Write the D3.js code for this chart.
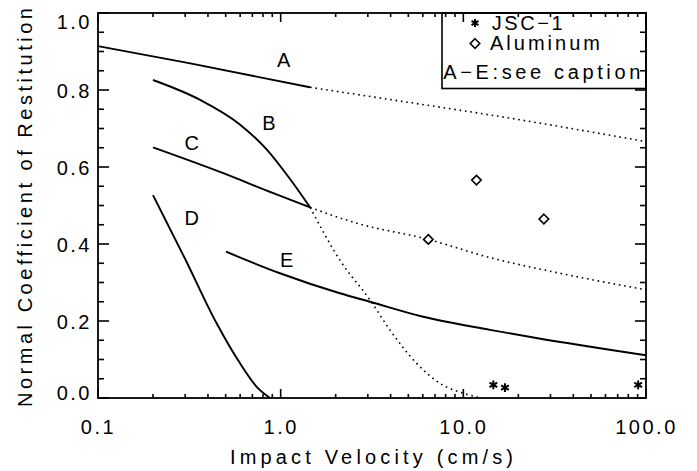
<!DOCTYPE html>
<html>
<head>
<meta charset="utf-8">
<script src="https://cdn.jsdelivr.net/npm/d3@7"></script>
<style>
  body { margin: 0; background: #fff; }
  text { font-family: "Liberation Sans", Arial, sans-serif; fill: #000; }
</style>
</head>
<body>
<svg id="chart" width="697" height="471"></svg>
<script>
// model curves (velocity in cm/s, coefficient of restitution)
const curveA_v = [0.1, 0.32, 1.45];
const curveA_e = [0.914, 0.869, 0.807];
const curveA_dot_v = [1.45, 4, 15.9, 100];
const curveA_dot_e = [0.807, 0.775, 0.731, 0.666];

const curveB_v = [0.2, 0.36, 0.6, 0.84, 1.12, 1.45];
const curveB_e = [0.826, 0.775, 0.71, 0.645, 0.57, 0.495];
const curveB_dot_v = [1.45, 2.11, 3.08, 3.96, 5.55, 7.45, 10.4, 12.5];
const curveB_dot_e = [0.495, 0.358, 0.255, 0.177, 0.090, 0.038, 0.010, 0.0];

const curveC_v = [0.2, 0.485, 0.911, 1.45];
const curveC_e = [0.651, 0.584, 0.532, 0.495];
const curveC_dot_v = [1.45, 2.61, 6.43, 13.4, 33.8, 100];
const curveC_dot_e = [0.495, 0.454, 0.412, 0.367, 0.324, 0.281];

const curveD_v = [0.2, 0.3, 0.446, 0.599, 0.739, 0.874];
const curveD_e = [0.527, 0.361, 0.194, 0.090, 0.029, 0.0];

const curveE_v = [0.502, 0.991, 2.11, 3.08, 6.03, 14.0, 25.1, 100];
const curveE_e = [0.380, 0.324, 0.272, 0.250, 0.211, 0.177, 0.156, 0.111];

// measurements
const jsc_v = [14.6, 16.9, 90.6];
const jsc_e = [0.034, 0.027, 0.034];
const alu_v = [6.43, 11.8, 27.6];
const alu_e = [0.412, 0.566, 0.465];

// curve letters (placed in data coordinates)
const curveNames = ['A', 'B', 'C', 'D', 'E'];
const nameV = [1.04, 0.862, 0.326, 0.326, 1.08];
const nameE = [0.861, 0.696, 0.644, 0.449, 0.341];

const xMajor = [0.1, 1, 10, 100];
const yMajor = [0, 0.2, 0.4, 0.6, 0.8, 1.0];

const svg = d3.select('#chart');
const pLeft = 98, pRight = 646, pTop = 13, pBottom = 398;

const x = d3.scaleLog().domain([0.1, 100]).range([pLeft, pRight]);
const y = d3.scaleLinear().domain([0, 1]).range([pBottom, pTop]);

const zip = (vs, es) => vs.map((v, i) => [v, es[i]]);
const curveLine = d3.line().x(d => x(d[0])).y(d => y(d[1])).curve(d3.curveMonotoneX);

// minor ticks
let xMinor = [];
[0.1, 1, 10].forEach(dec => { for (let k = 2; k <= 9; k++) xMinor.push(dec * k); });
const yMinor = d3.range(0, 21).map(i => i * 0.05).filter(v => Math.round(v * 100) % 20 !== 0);

// legend box
svg.append('rect')
  .attr('x', 442).attr('y', pTop)
  .attr('width', pRight - 442).attr('height', 88.5 - pTop)
  .attr('fill', '#fff').attr('stroke', '#000').attr('stroke-width', 1.6);

// solid curves
[[curveA_v, curveA_e], [curveB_v, curveB_e], [curveC_v, curveC_e], [curveD_v, curveD_e], [curveE_v, curveE_e]]
  .forEach(c => {
    svg.append('path').attr('d', curveLine(zip(c[0], c[1])))
      .attr('fill', 'none').attr('stroke', '#000').attr('stroke-width', 1.9);
  });

// dotted extrapolations
[[curveA_dot_v, curveA_dot_e], [curveB_dot_v, curveB_dot_e], [curveC_dot_v, curveC_dot_e]]
  .forEach(c => {
    svg.append('path').attr('d', curveLine(zip(c[0], c[1])))
      .attr('fill', 'none').attr('stroke', '#000').attr('stroke-width', 1.6)
      .attr('stroke-dasharray', '1.6,3.8');
  });

// tick labels from d3 axes
function styleAxis(g) {
  g.select('.domain').remove();
  g.selectAll('.tick line').remove();
  g.selectAll('.tick text').style('font-size', '20px').style('letter-spacing', '2.5px');
}
svg.append('g').attr('transform', `translate(0,${pBottom})`)
  .call(d3.axisBottom(x).tickValues(xMajor).tickFormat(d3.format('.1f'))
    .tickSize(0).tickPadding(22))
  .call(styleAxis);
const yAxisG = svg.append('g').attr('transform', `translate(${pLeft},0)`)
  .call(d3.axisLeft(y).tickValues(yMajor).tickFormat(d3.format('.1f'))
    .tickSize(0).tickPadding(6))
  .call(styleAxis);
// the end labels sit a little inside the frame, as in the original
yAxisG.selectAll('.tick text').attr('dy', d => d === 1 ? '0.75em' : (d === 0 ? '0.08em' : '0.35em'));

// frame
svg.append('rect')
  .attr('x', pLeft).attr('y', pTop).attr('width', pRight - pLeft).attr('height', pBottom - pTop)
  .attr('fill', 'none').attr('stroke', '#000').attr('stroke-width', 1.8);

// inward tick marks on all four sides, as line elements
const tickG = svg.append('g').attr('class', 'ticks');
function addTicks(vals, scale, side, len) {
  tickG.selectAll(null).data(vals).enter().append('line')
    .attr('x1', d => side === 'left' ? pLeft : side === 'right' ? pRight : scale(d))
    .attr('x2', d => side === 'left' ? pLeft + len : side === 'right' ? pRight - len : scale(d))
    .attr('y1', d => side === 'bottom' ? pBottom : side === 'top' ? pTop : scale(d))
    .attr('y2', d => side === 'bottom' ? pBottom - len : side === 'top' ? pTop + len : scale(d))
    .attr('stroke', '#000').attr('stroke-width', 1.6);
}
addTicks(xMajor, x, 'bottom', 9);
addTicks(xMinor, x, 'bottom', 4);
addTicks(xMajor, x, 'top', 9);
addTicks(xMinor, x, 'top', 4);
addTicks(yMajor, y, 'left', 11);
addTicks(yMinor, y, 'left', 6);
addTicks(yMajor, y, 'right', 11);
addTicks(yMinor, y, 'right', 6);

// data points
const asterisk = d3.symbol().type(d3.symbolAsterisk).size(55);
const diamond = d3.symbol().type(d3.symbolDiamond2).size(58);

svg.selectAll('.jsc').data(zip(jsc_v, jsc_e)).enter().append('path')
  .attr('transform', d => `translate(${x(d[0])},${y(d[1])})`)
  .attr('d', asterisk).attr('fill', 'none').attr('stroke', '#000').attr('stroke-width', 2);

svg.selectAll('.alu').data(zip(alu_v, alu_e)).enter().append('path')
  .attr('transform', d => `translate(${x(d[0])},${y(d[1])})`)
  .attr('d', diamond).attr('fill', '#fff').attr('stroke', '#000').attr('stroke-width', 1.6);

// curve letters
svg.selectAll('.cname').data(curveNames).enter().append('text')
  .attr('x', (d, i) => x(nameV[i])).attr('y', (d, i) => y(nameE[i]))
  .attr('text-anchor', 'middle').style('font-size', '20px')
  .text(d => d);

// legend content
svg.append('path').attr('transform', 'translate(475,23)')
  .attr('d', d3.symbol().type(d3.symbolAsterisk).size(45))
  .attr('fill', 'none').attr('stroke', '#000').attr('stroke-width', 2);
svg.append('text').attr('x', 491.7).attr('y', 30).style('font-size', '20px')
  .attr('textLength', 71).attr('lengthAdjust', 'spacing').text('JSC\u22121');
svg.append('path').attr('transform', 'translate(475,43.5)')
  .attr('d', diamond).attr('fill', '#fff').attr('stroke', '#000').attr('stroke-width', 1.6);
svg.append('text').attr('x', 490).attr('y', 50).style('font-size', '20px')
  .attr('textLength', 110).attr('lengthAdjust', 'spacing').text('Aluminum');
svg.append('text').attr('x', 443.3).attr('y', 79).style('font-size', '20px')
  .attr('textLength', 197).attr('lengthAdjust', 'spacing').text('A\u2212E:see caption');

// axis titles
svg.append('text').attr('x', 371.5).attr('y', 464)
  .attr('text-anchor', 'middle').style('font-size', '20px')
  .attr('textLength', 283).attr('lengthAdjust', 'spacing')
  .text('Impact Velocity (cm/s)');
svg.append('text').attr('transform', 'translate(32,207.5) rotate(-90)')
  .attr('text-anchor', 'middle').style('font-size', '20px')
  .attr('textLength', 399).attr('lengthAdjust', 'spacing')
  .text('Normal Coefficient of Restitution');
</script>
</body>
</html>
